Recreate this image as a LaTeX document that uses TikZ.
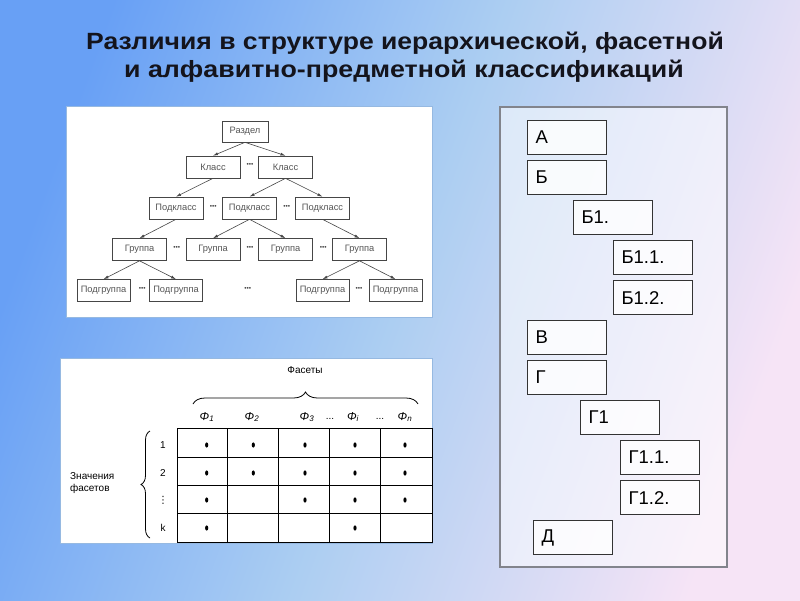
\documentclass[tikz,border=0pt]{standalone}
\usepackage{fontspec}
\setmainfont{Liberation Sans}
\newfontfamily\dejavufam{DejaVu Sans}
\usetikzlibrary{arrows.meta,decorations.pathreplacing,calc}
\definecolor{bgA}{RGB}{104,160,245}
\definecolor{bgB}{RGB}{172,206,242}
\definecolor{bgC}{RGB}{246,228,246}
\definecolor{titleC}{RGB}{20,20,28}
\definecolor{panelB}{RGB}{150,185,225}
\definecolor{treeC}{RGB}{70,70,70}
\definecolor{treeT}{RGB}{85,85,85}
\definecolor{rpanelB}{RGB}{130,132,140}
\tikzset{
  tbox/.style={draw=treeC, fill=white, line width=0.6pt, inner sep=1pt,
    minimum width=54pt, minimum height=22pt, text=treeT,
    font=\fontsize{9.3}{10}\selectfont},
  tdots/.style={inner sep=0pt, text=treeC, font=\fontsize{6.5}{7}\selectfont},
  tarr/.style={-{Latex[length=5pt,width=3pt]}, draw=treeC, line width=0.6pt},
  rbox/.style={draw=black!80, line width=1.1pt, fill=white, fill opacity=0.8,
    text opacity=1, anchor=north west, minimum height=34pt, text width=63pt,
    inner xsep=8pt, inner ysep=0pt, align=left,
    font=\fontsize{18.5}{20}\selectfont},
  tlab/.style={inner sep=0pt, font=\fontsize{10}{12}\selectfont},
  phil/.style={inner sep=0pt, font=\fontsize{11.5}{12}\selectfont\itshape},
  celldot/.style={fill=black},
  ttl/.style={anchor=base, text=titleC, inner sep=0pt, font=\bfseries\fontsize{23.5}{28}\selectfont},
}
\begin{document}
\begin{tikzpicture}[x=1pt,y=-1pt]
\useasboundingbox (0,0) rectangle (800,600);
\shade[top color=bgA, bottom color=bgC, middle color=bgB, shading angle=70] (0,0) rectangle (800,600);

% title
\node[ttl] (t1) at (405,49) {\scalebox{1.13}[1]{Различия в структуре иерархической, фасетной}};
\node[ttl] (t2) at (404,77) {\scalebox{1.14}[1]{и алфавитно-предметной классификаций}};

% ---------- hierarchical tree panel ----------
\draw[draw=panelB, line width=1pt, fill=white] (66,106) rectangle (432,317);
\node[tbox, minimum width=46pt, minimum height=21pt] (r) at (245,131.5) {Раздел};
\node[tbox] (k1) at (213,167) {Класс};
\node[tbox] (k2) at (285.5,167) {Класс};
\node[tbox] (p1) at (176,208) {Подкласс};
\node[tbox] (p2) at (249.5,208) {Подкласс};
\node[tbox] (p3) at (322.5,208) {Подкласс};
\node[tbox] (g1) at (139.5,249.5) {Группа};
\node[tbox] (g2) at (213,249.5) {Группа};
\node[tbox] (g3) at (285.5,249.5) {Группа};
\node[tbox] (g4) at (359.5,249.5) {Группа};
\node[tbox, minimum width=53pt] (s1) at (103.5,290.5) {Подгруппа};
\node[tbox, minimum width=53pt] (s2) at (176,290.5) {Подгруппа};
\node[tbox, minimum width=53pt] (s3) at (322.5,290.5) {Подгруппа};
\node[tbox, minimum width=53pt] (s4) at (395.5,290.5) {Подгруппа};
\node[tdots] (d1) at (250,165) {•••};
\node[tdots] (d2) at (213.3,206.5) {•••};
\node[tdots] (d3) at (286.7,206.5) {•••};
\node[tdots] (d4) at (176.7,247.5) {•••};
\node[tdots] (d5) at (250,247.5) {•••};
\node[tdots] (d6) at (323.3,247.5) {•••};
\node[tdots] (d7) at (142.3,288.5) {•••};
\node[tdots] (d8) at (247.7,288.5) {•••};
\node[tdots] (d9) at (359,288.5) {•••};
\draw[tarr] (r.south) -- (k1.north);
\draw[tarr] (r.south) -- (k2.north);
\draw[tarr] (k1.south) -- (p1.north);
\draw[tarr] (k2.south) -- (p2.north);
\draw[tarr] (k2.south) -- (p3.north);
\draw[tarr] (p1.south) -- (g1.north);
\draw[tarr] (p2.south) -- (g2.north);
\draw[tarr] (p2.south) -- (g3.north);
\draw[tarr] (p3.south) -- (g4.north);
\draw[tarr] (g1.south) -- (s1.north);
\draw[tarr] (g1.south) -- (s2.north);
\draw[tarr] (g4.south) -- (s3.north);
\draw[tarr] (g4.south) -- (s4.north);

% ---------- facet table panel ----------
\draw[draw=panelB, line width=1pt, fill=white] (60,358) rectangle (432,543);
\draw[line width=1pt] (177,428) rectangle (432,542);
\foreach \xx in {227,278,329,380} \draw[line width=0.9pt] (\xx,428) -- (\xx,542);
\foreach \yy in {457,485,513} \draw[line width=0.9pt] (177,\yy) -- (432,\yy);
% dots
\foreach \xx/\yy in {206.7/445,253.3/445,305/445,355/445,405/445,
                     206.7/473,253.3/473,305/473,355/473,405/473,
                     206.7/500,305/500,355/500,405/500,
                     206.7/528,355/528}
  \fill[celldot] (\xx,\yy) ellipse [x radius=1.6pt, y radius=2.6pt];
\node[tlab] (fac) at (305,370) {Фасеты};
\draw[line width=0.8pt, decorate, decoration={brace, amplitude=12pt}] (193,404) -- (418,404);
\node[phil] (f1) at (207,417) {Φ\textsubscript{1}};
\node[phil] (f2) at (252,417) {Φ\textsubscript{2}};
\node[phil] (f3) at (307,417) {Φ\textsubscript{3}};
\node[tlab] (e1) at (330,419) {...};
\node[phil] (fi) at (353,417) {Φ\textsubscript{i}};
\node[tlab] (e2) at (380,419) {...};
\node[phil] (fn) at (405,417) {Φ\textsubscript{n}};
\node[tlab] (n1) at (163,445) {1};
\node[tlab] (n2) at (163,473) {2};
\node[tlab, font=\dejavufam\fontsize{10}{12}\selectfont] (n3) at (163,500) {⋮};
\node[tlab] (n4) at (163,528) {k};
\draw[line width=0.8pt, decorate, decoration={brace, amplitude=9pt}] (150,538) -- (150,431);
\node[tlab, anchor=west, align=left] (zn) at (70,483) {Значения\\фасетов};

% ---------- alphabetical-subject panel ----------
\draw[draw=rpanelB, line width=1.2pt, fill=white, fill opacity=0.55] (500,107) rectangle (727,567);
\node[rbox] (bA) at (527,120) {А};
\node[rbox] (bB) at (527,160) {Б};
\node[rbox] (bB1) at (573,200) {Б1.};
\node[rbox] (bB11) at (613,240) {Б1.1.};
\node[rbox] (bB12) at (613,280) {Б1.2.};
\node[rbox] (bV) at (527,320) {В};
\node[rbox] (bG) at (527,360) {Г};
\node[rbox] (bG1) at (580,400) {Г1};
\node[rbox] (bG11) at (620,440) {Г1.1.};
\node[rbox] (bG12) at (620,480) {Г1.2.};
\node[rbox] (bD) at (533,520) {Д};
\end{tikzpicture}
\end{document}
